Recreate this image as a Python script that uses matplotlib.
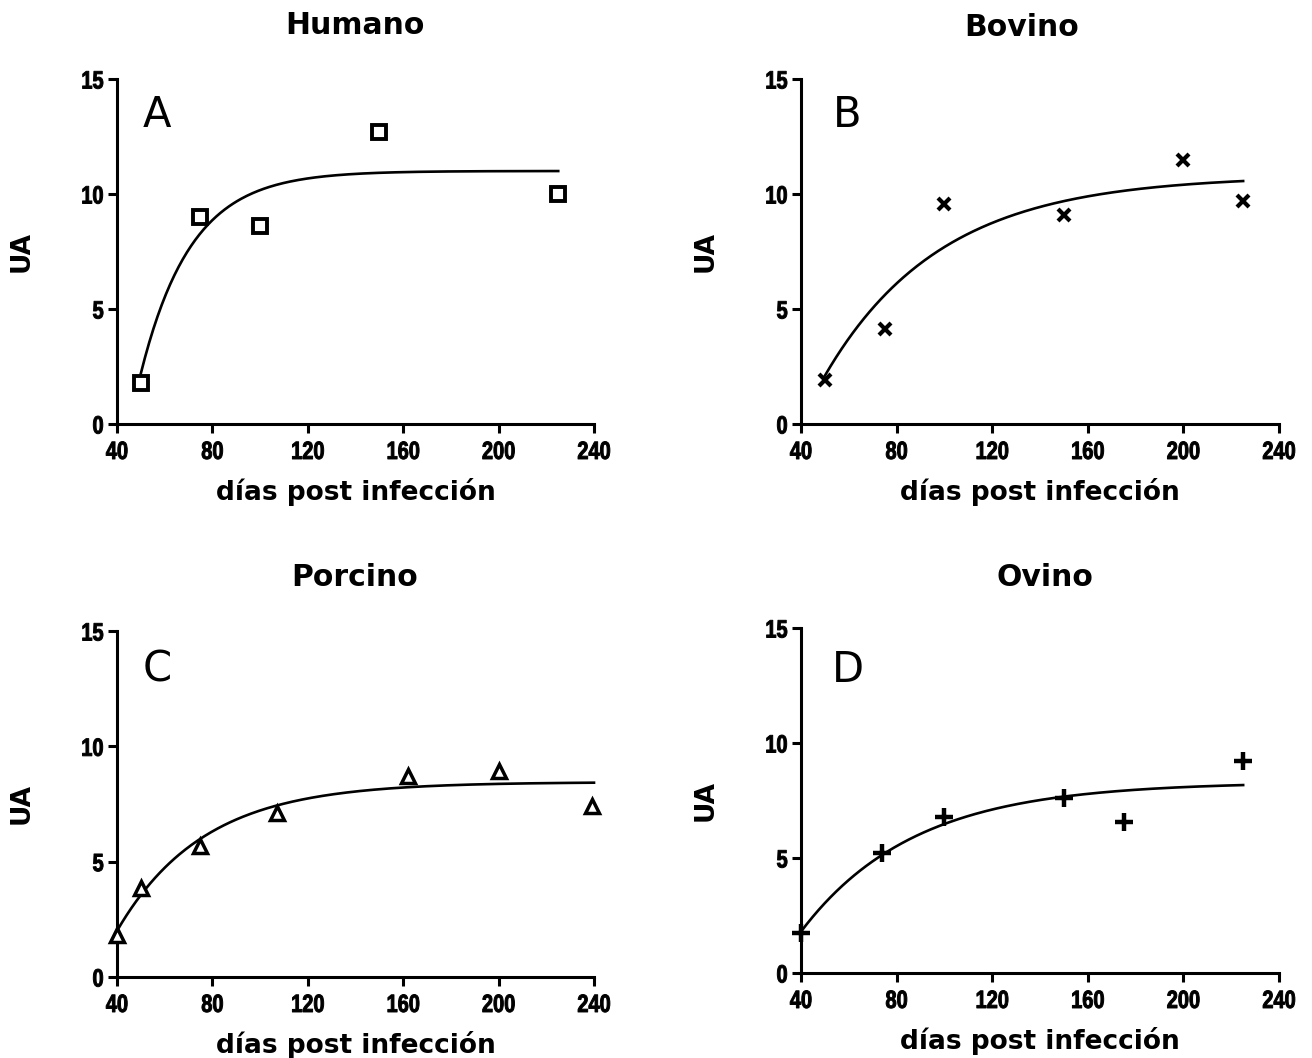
import numpy as np
import matplotlib
matplotlib.use("Agg")
import matplotlib.pyplot as plt
from matplotlib import font_manager
from matplotlib.patheffects import AbstractPathEffect
from matplotlib.transforms import Affine2D

# --- data -----------------------------------------------------------------
titles = ["Humano", "Bovino", "Porcino", "Ovino"]
letters = ["A", "B", "C", "D"]
xlabel = "días post infección"
ylabel = "UA"
x_ticks = [40, 80, 120, 160, 200, 240]
y_ticks = [0, 5, 10, 15]

humano_x = [50, 75, 100, 150, 225]
humano_y = [1.8, 9.0, 8.6, 12.7, 10.0]

bovino_x = [50, 75, 100, 150, 200, 225]
bovino_y = [1.9, 4.15, 9.55, 9.1, 11.5, 9.7]

porcino_x = [40, 50, 75, 107, 162, 200, 239]
porcino_y = [1.8, 3.85, 5.7, 7.1, 8.7, 8.95, 7.4]

ovino_x = [40, 74, 100, 150, 175, 225]
ovino_y = [1.75, 5.2, 6.8, 7.6, 6.55, 9.2]

# one-phase association fits: (x start, x end, y at start, plateau, rate k)
humano_fit = (50, 225, 2.2, 11.0, 0.0472)
bovino_fit = (50, 225, 2.1, 10.8, 0.0206)
porcino_fit = (40, 240, 2.0, 8.45, 0.0276)
ovino_fit = (40, 225, 1.8, 8.3, 0.0212)


# --- styling ----------------------------------------------------------------
class Condense(AbstractPathEffect):
    """Narrow a text path horizontally about its centre or right edge,
    with a thin outline to keep the strokes heavy."""

    def __init__(self, sx, anchor="center", outline=0.7):
        super().__init__()
        self.sx = sx
        self.anchor = anchor
        self.outline = outline

    def draw_path(self, renderer, gc, tpath, affine, rgbFace=None):
        ext = tpath.get_extents(affine)
        x_ref = ext.x1 if self.anchor == "right" else 0.5 * (ext.x0 + ext.x1)
        squeeze = Affine2D().translate(-x_ref, 0).scale(self.sx, 1).translate(x_ref, 0)
        gc0 = renderer.new_gc()
        gc0.copy_properties(gc)
        gc0.set_linewidth(self.outline)
        gc0.set_foreground(rgbFace if rgbFace is not None else "black")
        renderer.draw_path(gc0, tpath, affine + squeeze, rgbFace)
        gc0.restore()


available = {f.name for f in font_manager.fontManager.ttflist}
narrow = "Liberation Sans Narrow" in available
tick_family = ["Liberation Sans Narrow", "DejaVu Sans"] if narrow \
    else ["Liberation Sans", "DejaVu Sans"]
squeeze_x = 1.0 if narrow else 0.8
tick_size = 18

W, H = 1312, 1058
fig = plt.figure(figsize=(W / 100, H / 100), dpi=100)

# axes boxes in pixels: (left, right, top, bottom)
boxes = [(117, 594, 79, 424), (801, 1279, 79, 424),
         (117, 594, 631, 977), (801, 1279, 628, 973)]
title_pos = [(355, 25), (1022, 28), (355, 577), (1045, 577)]
letter_pos = [(157, 115), (847, 115), (157, 670), (848, 670)]

series = [
    (humano_x, humano_y, humano_fit, dict(marker="s", ms=10.5, mew=2.8, mfc="white")),
    (bovino_x, bovino_y, bovino_fit, dict(marker="x", ms=9, mew=3.0)),
    (porcino_x, porcino_y, porcino_fit, dict(marker="^", ms=10, mew=2.5, mfc="white")),
    (ovino_x, ovino_y, ovino_fit, dict(marker="+", ms=13, mew=3.2)),
]


def one_phase(fit):
    x0, x1, y0, plateau, k = fit
    xs = np.linspace(x0, x1, 300)
    return xs, plateau - (plateau - y0) * np.exp(-k * (xs - x0))


for i, (xs, ys, fit, mstyle) in enumerate(series):
    l, r, t, b = boxes[i]
    ax = fig.add_axes([l / W, 1 - b / H, (r - l) / W, (b - t) / H])
    ax.set_xlim(40, 240)
    ax.set_ylim(0, 15)
    for s in ("top", "right"):
        ax.spines[s].set_visible(False)
    for s in ("left", "bottom"):
        ax.spines[s].set_linewidth(2.2)
    ax.set_xticks(x_ticks)
    ax.set_yticks(y_ticks)
    ax.tick_params(width=2.2, length=6.5, pad=3, labelsize=tick_size, colors="black")
    ax.tick_params(axis="x", pad=5)
    for lab in ax.get_xticklabels():
        lab.set_family(tick_family)
        lab.set_fontweight("bold")
        lab.set_path_effects([Condense(squeeze_x, "center")])
    for lab in ax.get_yticklabels():
        lab.set_family(tick_family)
        lab.set_fontweight("bold")
        lab.set_path_effects([Condense(squeeze_x, "right")])

    cx, cy = one_phase(fit)
    ax.plot(cx, cy, color="black", lw=1.9, zorder=2, clip_on=False)
    ax.plot(xs, ys, ls="none", color="black", mec="black", zorder=3,
            clip_on=False, **mstyle)

    ax.set_xlabel(xlabel, fontsize=19, fontweight="bold", family="DejaVu Sans")
    ax.xaxis.set_label_coords(0.5, -68 / (b - t))
    ax.xaxis.label.set_verticalalignment("center")
    ax.set_ylabel(ylabel, fontsize=19, fontweight="bold", family="DejaVu Sans")
    ax.yaxis.set_label_coords(-95 / (r - l), 0.5)
    ax.yaxis.label.set_verticalalignment("center")

    tx, ty = title_pos[i]
    fig.text(tx / W, 1 - ty / H, titles[i], ha="center", va="center",
             fontsize=21.5, fontweight="bold", family="DejaVu Sans")
    lx, ly = letter_pos[i]
    fig.text(lx / W, 1 - ly / H, letters[i], ha="center", va="center",
             fontsize=30, family="DejaVu Sans")

fig.savefig("out.png", dpi=100, facecolor="white")
